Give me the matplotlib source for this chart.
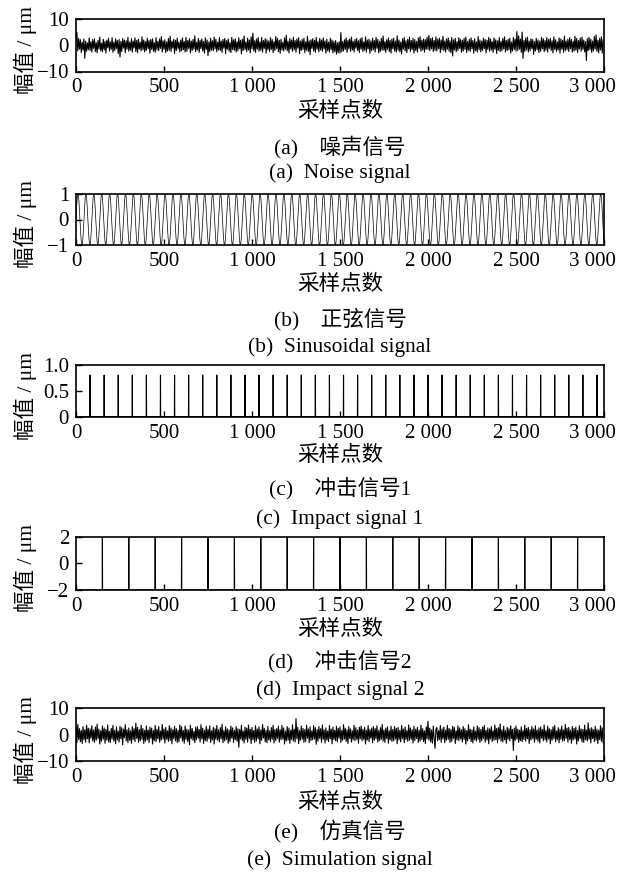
import numpy as np
import matplotlib
matplotlib.use("Agg")
import matplotlib.pyplot as plt
from matplotlib.transforms import ScaledTranslation

# ---------------- data ----------------
n_samples = 3000
noise_step = 5  # noise values read every 5 samples

noise_signal = [
    1.8, 5.0, -2.2, 2.6, -1.5, 2.1, -2.8, 1.2, -1.9, 2.4, -5.0, 1.6, -2.3, 0.9, -1.7, 2.8, -2.0, 1.4, -2.6, 2.2,
    -1.2, 2.5, -2.4, 1.0, -2.9, 1.9, -1.4, 3.1, -2.1, 0.8, -2.5, 2.3, -1.8, 1.5, -3.0, 2.0, -0.9, 2.7, -2.2, 1.3,
    -1.6, 2.9, -2.7, 1.1, -2.0, 2.4, -1.3, 1.8, -3.2, 2.2, -4.5, 1.5, -2.4, 2.6, -1.1, 2.0, -2.8, 1.7, -1.5, 3.0,
    -2.3, 1.2, -1.9, 2.5, -2.6, 1.6, -1.0, 2.8, -2.4, 1.9, -2.9, 2.3, -1.4, 1.1, -2.2, 3.2, -1.7, 2.0, -2.5, 1.4,
    -2.0, 2.7, -1.3, 1.8, -3.0, 2.2, -1.6, 2.5, -2.3, 1.0, -2.7, 2.9, -1.8, 1.5, -2.1, 2.4, -1.2, 3.3, -2.6, 1.7,
    -1.5, 2.1, -2.8, 1.3, -2.2, 2.6, -1.9, 3.4, -2.4, 1.6, -1.1, 2.3, -3.1, 1.9, -2.0, 2.7, -1.4, 1.2, -2.5, 2.0,
    -2.1, 2.8, -1.7, 1.4, -2.6, 3.0, -2.3, 1.8, -1.2, 2.5, -2.9, 1.6, -2.0, 2.2, -1.5, 3.6, -2.4, 1.1, -1.8, 2.6,
    -2.7, 1.9, -1.3, 2.4, -2.2, 1.5, -3.0, 2.8, -1.6, 2.0, -4.0, 1.3, -2.4, 2.7, -1.9, 1.7, -2.1, 3.1, -1.4, 2.3,
    -2.5, 1.2, -1.8, 2.9, -2.0, 1.6, -2.7, 2.2, -1.1, 2.6, -3.2, 1.8, -1.5, 2.4, -2.3, 1.0, -2.8, 3.0, -1.7, 2.1,
    -1.9, 2.5, -2.6, 1.4, -2.1, 2.8, -1.3, 1.9, -3.3, 2.3, -2.0, 3.5, -1.6, 1.2, -2.4, 2.7, -1.8, 2.0, -2.9, 3.2,
    -1.4, 4.6, -2.2, 1.7, -2.7, 2.4, -1.5, 2.9, -2.3, 1.3, -1.9, 3.0, -2.6, 1.8, -1.2, 2.5, -3.0, 2.1, -1.7, 1.6,
    -2.4, 2.9, -1.6, 2.2, -2.8, 1.4, -2.0, 3.3, -1.3, 2.6, -2.5, 1.9, -3.1, 2.3, -1.8, 1.1, -2.2, 2.8, -1.5, 3.8,
    -2.1, 1.5, -2.9, 2.6, -1.4, 2.0, -2.3, 3.1, -1.7, 1.8, -2.6, 2.4, -1.1, 2.9, -3.2, 1.6, -2.0, 2.2, -1.6, 2.7,
    -2.8, 1.3, -1.9, 3.4, -2.4, 1.7, -3.6, 2.1, -1.2, 2.5, -2.2, 1.9, -2.7, 3.0, -1.5, 1.4, -2.5, 2.6, -1.8, 2.0,
    -2.3, 2.8, -1.4, 1.6, -3.0, 2.3, -2.1, 1.2, -2.6, 2.7, -1.7, 2.0, -2.9, 1.5, -2.4, 1.8, -3.4, 1.0, -2.8, 1.3,
    -3.0, 4.8, -2.5, 1.4, -2.2, 2.1, -1.6, 2.8, -2.7, 1.9, -1.3, 2.4, -2.3, 3.1, -1.8, 1.5, -2.6, 2.2, -1.1, 2.6,
    -2.0, 1.7, -2.8, 2.5, -1.5, 2.9, -2.4, 1.3, -1.9, 3.2, -2.6, 2.0, -1.4, 2.3, -3.1, 1.6, -2.1, 2.7, -1.7, 1.8,
    -2.5, 3.0, -1.2, 2.2, -2.9, 1.5, -2.3, 2.6, -1.8, 3.5, -2.0, 1.4, -2.7, 2.1, -1.6, 2.8, -2.4, 1.9, -3.0, 2.4,
    -1.3, 2.7, -2.2, 1.6, -2.6, 3.6, -1.9, 2.0, -2.5, 1.2, -3.3, 2.5, -1.5, 2.9, -2.1, 1.7, -2.8, 2.3, -1.4, 3.1,
    -2.4, 1.8, -1.7, 2.6, -3.0, 2.2, -2.0, 1.5, -2.6, 2.8, -1.2, 3.3, -2.3, 1.9, -1.8, 2.4, -2.7, 2.1, -1.5, 3.0,
    -1.6, 3.7, -2.1, 2.5, -1.4, 2.9, -2.4, 1.8, -1.9, 3.2, -2.2, 2.3, -1.3, 2.7, -2.8, 2.0, -1.7, 3.4, -2.0, 1.6,
    -2.6, 2.4, -1.5, 2.8, -2.3, 1.7, -2.9, 3.0, -4.1, 2.1, -1.8, 2.6, -2.5, 1.4, -2.0, 2.9, -1.2, 2.2, -2.7, 1.9,
    -2.2, 2.6, -1.6, 3.1, -2.8, 1.5, -1.9, 2.3, -2.4, 2.8, -1.4, 1.8, -3.0, 2.5, -2.1, 1.3, -2.6, 3.3, -1.7, 2.0,
    -2.5, 1.6, -2.0, 2.7, -1.3, 2.2, -2.9, 1.9, -1.6, 3.0, -2.3, 2.4, -1.8, 1.4, -2.7, 2.8, -1.5, 2.1, -3.1, 1.7,
    -1.9, 2.9, -2.4, 1.5, -2.1, 2.6, -1.4, 3.2, -2.6, 1.8, -2.0, 2.3, -1.7, 2.7, -3.0, 1.2, -2.2, 3.0, -1.6, 2.4,
    -2.3, 5.2, -2.0, 3.6, -1.5, 2.4, -2.7, 5.0, -5.0, 1.9, -2.4, 2.8, -1.8, 3.1, -2.6, 1.6, -2.1, 2.5, -1.3, 2.2,
    -3.5, 1.4, -2.2, 2.7, -1.7, 2.0, -2.8, 1.6, -2.3, 3.0, -1.4, 2.5, -2.5, 1.8, -1.9, 2.9, -2.6, 2.2, -1.2, 2.6,
    -2.0, 1.7, -2.9, 3.2, -1.6, 2.1, -2.4, 1.3, -1.8, 2.8, -3.0, 2.4, -1.5, 1.9, -2.7, 3.5, -2.1, 1.6, -1.7, 2.3,
    -2.4, 2.9, -1.3, 2.2, -2.6, 1.5, -2.2, 3.4, -1.9, 2.6, -2.8, 1.8, -1.4, 2.7, -2.3, 3.1, -1.6, 2.0, -2.5, 1.4,
    -5.8, 2.5, -2.0, 3.0, -1.7, 2.3, -2.7, 1.6, -2.2, 3.3, -1.5, 4.0, -2.4, 1.9, -2.9, 2.6, -1.8, 3.2, -3.0, 2.1,
]

simulation_signal = [
    2.6, -3.1, 3.8, -1.9, 2.2, -2.7, 1.5, -3.4, 3.0, -2.0, 1.8, -2.9, 3.5, -1.6, 2.4, -3.2, 2.1, -1.4, 3.3, -2.5,
    1.7, -3.0, 2.8, -2.2, 3.9, -1.5, 2.0, -3.6, 1.4, -2.6, 3.2, -1.8, 2.5, -3.3, 1.9, -2.1, 3.6, -2.8, 1.2, -3.0,
    2.3, -1.7, 3.4, -2.5, 1.6, -3.5, 2.9, -2.0, 1.3, -2.8, 3.1, -1.6, 2.6, -3.9, 2.0, -1.2, 3.7, -2.4, 1.8, -3.1,
    2.5, -2.2, 1.4, -3.3, 3.0, -1.9, 2.2, -2.7, 4.2, -1.5, 2.7, -3.0, 1.9, -2.4, 3.5, -1.8, 2.3, -3.4, 1.6, -2.6,
    3.2, -2.0, 1.7, -3.1, 2.8, -1.4, 2.4, -3.6, 1.5, -2.3, 3.4, -2.7, 2.0, -1.6, 3.0, -2.9, 1.3, -2.1, 3.8, -1.7,
    2.1, -3.2, 2.7, -1.8, 1.4, -2.6, 3.3, -2.2, 2.5, -3.5, 1.8, -1.5, 3.1, -2.4, 2.2, -3.0, 1.6, -2.8, 3.6, -1.3,
    2.9, -2.5, 1.5, -3.3, 3.2, -1.9, 2.0, -2.7, 1.7, -3.8, 3.5, -1.6, 2.3, -2.2, 1.2, -3.1, 2.8, -2.0, 3.0, -1.4,
    1.9, -2.9, 3.7, -1.7, 2.4, -3.4, 1.6, -2.3, 3.1, -2.6, 2.0, -1.5, 3.3, -3.0, 1.4, -2.1, 2.7, -3.6, 2.2, -1.8,
    3.4, -2.2, 1.8, -2.8, 2.6, -1.6, 3.9, -3.1, 1.5, -2.4, 2.9, -1.9, 2.1, -3.3, 1.7, -2.7, 3.2, -1.4, 2.5, -3.0,
    1.6, -2.0, 3.0, -2.6, 2.2, -4.8, 1.9, -1.7, 3.5, -2.3, 1.3, -3.2, 2.8, -1.8, 2.4, -2.9, 3.6, -1.5, 2.0, -3.4,
    2.7, -1.9, 1.5, -3.0, 3.3, -2.4, 2.1, -1.6, 2.9, -3.5, 1.7, -2.2, 3.8, -1.3, 2.3, -2.8, 1.6, -3.1, 3.0, -2.0,
    1.4, -2.7, 2.6, -1.8, 3.5, -3.2, 1.9, -2.3, 2.2, -1.5, 3.1, -2.9, 1.8, -2.0, 3.4, -1.7, 2.5, -3.6, 1.3, -2.4,
    3.0, -2.1, 2.4, -3.3, 1.6, -1.9, 3.7, -2.5, 2.0, -2.8, 6.0, -1.6, 2.7, -3.4, 1.5, -2.2, 3.2, -1.8, 2.3, -3.0,
    1.8, -2.6, 3.5, -1.4, 2.1, -3.1, 2.9, -2.3, 1.4, -2.0, 3.3, -1.7, 2.6, -3.7, 1.9, -2.5, 3.0, -1.5, 2.2, -2.9,
    3.6, -1.8, 1.7, -3.2, 2.5, -2.1, 1.3, -2.7, 3.4, -1.6, 2.0, -3.5, 2.8, -1.9, 1.6, -2.4, 3.1, -2.8, 2.3, -1.4,
    2.9, -3.0, 1.5, -2.2, 3.7, -1.7, 2.4, -2.6, 1.8, -3.4, 3.0, -1.5, 2.1, -2.9, 1.4, -2.0, 3.5, -2.3, 2.6, -1.8,
    1.7, -3.3, 2.8, -1.6, 3.2, -2.4, 2.0, -1.9, 2.7, -3.6, 1.6, -2.1, 3.4, -2.7, 1.9, -1.4, 2.5, -3.1, 3.0, -2.2,
    2.2, -1.6, 3.3, -2.9, 1.5, -2.3, 2.6, -1.8, 3.8, -2.5, 1.7, -3.0, 2.4, -1.5, 2.9, -3.3, 1.4, -2.0, 3.1, -2.6,
    1.9, -2.4, 3.0, -1.7, 2.3, -3.5, 2.7, -2.0, 1.6, -2.8, 3.4, -1.6, 2.1, -3.1, 2.8, -1.9, 1.5, -2.6, 3.6, -2.2,
    2.5, -1.8, 1.8, -3.2, 3.1, -2.3, 2.0, -1.5, 2.7, -3.0, 1.6, -2.5, 3.5, -1.9, 2.2, -2.7, 1.4, -3.4, 2.9, -1.6,
    5.0, -2.1, 2.4, -2.8, 1.7, -3.3, 3.2, -1.6, -5.2, 2.0, 2.6, -2.4, 1.5, -1.9, 3.4, -2.9, 2.1, -1.7, 2.8, -3.1,
    1.6, -2.2, 3.5, -1.8, 2.3, -3.0, 1.9, -2.6, 3.1, -1.5, 2.7, -3.4, 1.4, -2.0, 3.3, -2.3, 2.5, -1.7, 1.8, -2.8,
    3.0, -1.9, 2.2, -3.6, 1.5, -2.4, 3.7, -1.6, 2.0, -2.7, 1.7, -3.2, 2.9, -2.0, 1.3, -2.5, 3.2, -1.8, 2.6, -3.0,
    1.9, -2.3, 2.8, -1.5, 3.4, -2.9, 1.6, -2.1, 2.5, -3.5, 2.1, -1.7, 3.0, -2.6, 1.4, -2.2, 3.6, -1.9, 2.3, -3.1,
    2.6, -1.6, 4.0, -2.5, 1.8, -2.8, 3.1, -2.0, 1.5, -3.3, 2.7, -1.8, 2.2, -2.4, 3.3, -1.5, 1.9, -6.0, 2.4, -2.2,
    3.2, -1.7, 2.0, -3.0, 1.6, -2.3, 2.9, -2.7, 1.4, -1.9, 3.5, -2.5, 2.3, -1.6, 2.7, -3.4, 1.8, -2.1, 3.0, -1.5,
    2.1, -2.9, 3.3, -1.8, 1.7, -2.6, 2.5, -3.2, 2.8, -1.4, 1.9, -2.4, 3.6, -2.0, 1.5, -2.8, 3.1, -1.7, 2.2, -3.5,
    1.8, -2.2, 2.9, -1.6, 3.4, -2.7, 1.4, -2.0, 2.6, -3.1, 2.0, -1.8, 3.2, -2.5, 1.7, -2.3, 3.8, -1.5, 2.4, -2.9,
    2.7, -1.9, 1.6, -3.3, 3.0, -2.1, 2.3, -1.7, 2.8, -3.6, 1.5, -2.4, 3.3, -1.6, 2.1, -2.8, 1.9, -3.0, 3.5, -2.0,
    1.7, -2.5, 4.4, -1.8, 2.2, -3.2, 2.6, -1.5, 1.8, -2.7, 3.1, -2.2, 2.0, -3.4, 1.6, -1.9, 3.3, -2.6, 2.5, -3.0,
]

sine_amplitude = 1.0
sine_period_samples = 45

impact1_positions = [80, 160, 240, 320, 400, 480, 560, 640, 720, 800, 880, 960, 1040, 1120, 1200,
                     1280, 1360, 1440, 1520, 1600, 1680, 1760, 1840, 1920, 2000, 2080, 2160, 2240,
                     2320, 2400, 2480, 2560, 2640, 2720, 2800, 2880, 2960]
impact1_height = 0.8

impact2_positions = [150, 300, 450, 600, 750, 900, 1050, 1200, 1350, 1500, 1650, 1800, 1950,
                     2100, 2250, 2400, 2550, 2700, 2850]
impact2_low = -2.0
impact2_high = 2.0

x_ticks = [0, 500, 1000, 1500, 2000, 2500, 3000]
x_tick_labels = ["0", "500", "1 000", "1 500", "2 000", "2 500", "3 000"]

y_ticks = {
    "a": [-10, 0, 10], "b": [-1, 0, 1], "c": [0, 0.5, 1.0], "d": [-2, 0, 2], "e": [-10, 0, 10],
}
y_tick_labels = {
    "a": ["\u221210", "0", "10"], "b": ["\u22121", "0", "1"], "c": ["0", "0.5", "1.0"],
    "d": ["\u22122", "0", "2"], "e": ["\u221210", "0", "10"],
}
y_limits = {"a": (-10, 10), "b": (-1, 1), "c": (0, 1.0), "d": (-2, 2), "e": (-10, 10)}

captions_cn = ["(a)\u3000噪声信号", "(b)\u3000正弦信号", "(c)\u3000冲击信号1", "(d)\u3000冲击信号2", "(e)\u3000仿真信号"]
captions_en = ["(a)  Noise signal", "(b)  Sinusoidal signal", "(c)  Impact signal 1",
               "(d)  Impact signal 2", "(e)  Simulation signal"]
x_label = "采样点数"
y_label = "幅值 / μm"

# ---------------- build sample series ----------------
n = np.arange(n_samples)
noise_x = np.arange(len(noise_signal)) * noise_step
sim_x = np.arange(len(simulation_signal)) * noise_step
sine = sine_amplitude * np.sin(2 * np.pi * n / sine_period_samples)
imp1 = np.zeros(n_samples)
imp1[impact1_positions] = impact1_height
imp2 = np.full(n_samples, impact2_low)
imp2[impact2_positions] = impact2_high

series = {
    "a": (noise_x, np.array(noise_signal)),
    "b": (n, sine),
    "c": (n, imp1),
    "d": (n, imp2),
    "e": (sim_x, np.array(simulation_signal)),
}
line_widths = {"a": 0.8, "b": 0.5, "c": 0.8, "d": 0.8, "e": 0.8}

# ---------------- figure ----------------
W, H = 621, 877
fig = plt.figure(figsize=(W / 100, H / 100), dpi=100)
serif = ["Liberation Serif", "Noto Sans CJK SC"]
cjk = ["Noto Sans CJK SC", "Liberation Serif"]

ax_left, ax_right = 76, 604
boxes = {"a": (19, 71.5), "b": (194, 245), "c": (364.7, 416.7), "d": (536.7, 590), "e": (708, 761)}
text_y = {
    "a": (111, 147, 173),
    "b": (284, 319, 347),
    "c": (455, 489, 519),
    "d": (629, 662, 690),
    "e": (802, 831, 860),
}

for i, key in enumerate("abcde"):
    top, bot = boxes[key]
    ax = fig.add_axes([ax_left / W, 1 - bot / H, (ax_right - ax_left) / W, (bot - top) / H])
    xs, ys = series[key]
    ax.plot(xs, ys, color="black", lw=line_widths[key])
    ax.set_xlim(0, 3000)
    ax.set_ylim(*y_limits[key])
    ax.set_xticks(x_ticks)
    ax.set_xticklabels(x_tick_labels, family=serif, fontsize=15)
    ax.set_yticks(y_ticks[key])
    ax.set_yticklabels(y_tick_labels[key], family=serif, fontsize=15)
    ax.tick_params(direction="in", length=4, width=1.0, top=False, right=False, pad=5)
    for sp in ax.spines.values():
        sp.set_linewidth(1.2)
    last = ax.get_xticklabels()[-1]
    last.set_transform(last.get_transform() + ScaledTranslation(-0.12, 0, fig.dpi_scale_trans))
    cx = (ax_left + ax_right) / 2 / W
    xl, cn, en = text_y[key]
    fig.text(cx, 1 - xl / H, x_label, ha="center", va="center", family=cjk, fontsize=15.5)
    fig.text(cx, 1 - cn / H, captions_cn[i], ha="center", va="center", family=serif, fontsize=15.5)
    fig.text(cx, 1 - en / H, captions_en[i], ha="center", va="center", family=serif, fontsize=15.5)
    fig.text(25 / W, 1 - ((top + bot) / 2 + 5) / H, y_label, rotation=90, ha="center", va="center",
             family=serif, fontsize=15.5)

fig.savefig("out.png", dpi=100)
